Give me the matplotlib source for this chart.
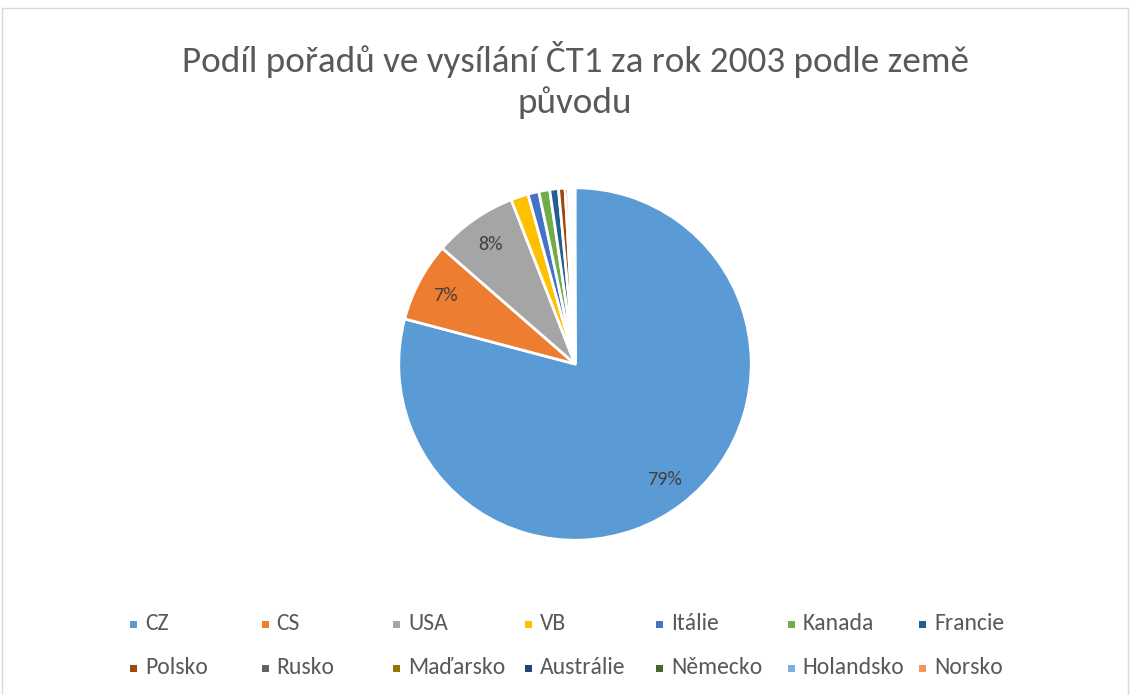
import matplotlib.pyplot as plt
from matplotlib.patches import Rectangle

## data (share of broadcasting, %)
zeme = ['CZ', 'CS', 'USA', 'VB', 'Itálie', 'Kanada', 'Francie',
        'Polsko', 'Rusko', 'Maďarsko', 'Austrálie', 'Německo', 'Holandsko', 'Norsko']
podil = [79.2, 7.3, 7.7, 1.6, 1.0, 1.0, 0.8,
         0.6, 0.3, 0.2, 0.15, 0.1, 0.1, 0.05]
barvy = ['#5B9BD5', '#ED7D31', '#A5A5A5', '#FFC000', '#4472C4', '#70AD47', '#255E91',
         '#9E480E', '#636363', '#997300', '#264478', '#43682B', '#7CAFDD', '#F1975A']

plt.rcParams['font.family'] = ['Carlito', 'Lato', 'DejaVu Sans']

W, H = 1131, 695
fig = plt.figure(figsize=(W / 100, H / 100), dpi=100)

# light border round the chart area
fig.patches.append(Rectangle((2 / W, -0.01), (W - 5) / W, 1 - 1 / H, transform=fig.transFigure,
                             fill=False, edgecolor='#D9D9D9', linewidth=1))

fig.text(575 / W, 1 - 60 / H, 'Podíl pořadů ve vysílání ČT1 za rok 2003 podle země',
         ha='center', va='center', fontsize=26.7, color='#595959')
fig.text(575 / W, 1 - 103 / H, 'původu',
         ha='center', va='center', fontsize=26.7, color='#595959')

## pie
cx, cy, r = 575, 364, 178
ax = fig.add_axes([(cx - r) / W, (H - cy - r) / H, 2 * r / W, 2 * r / H])
ax.set_aspect('equal')

def fmt(p):
    return f'{p:.0f}%' if p >= 5 else ''

wedges, texts, autotexts = ax.pie(podil, colors=barvy, startangle=90, counterclock=False,
                                  autopct=fmt, pctdistance=0.83,
                                  wedgeprops=dict(edgecolor='white', linewidth=2),
                                  textprops=dict(color='#404040', fontsize=14.5))
ax.set_xlim(-1.01, 1.01)
ax.set_ylim(-1.01, 1.01)

## legend, excel style equal columns
for i, (name, c) in enumerate(zip(zeme, barvy)):
    col, row = i % 7, i // 7
    x = (130 + col * 131.5) / W
    y = 1 - (624 + row * 44) / H
    fig.patches.append(Rectangle((x, y - 3.5 / H), 7 / W, 7 / H, transform=fig.transFigure,
                                 facecolor=c, edgecolor='none'))
    fig.text(x + 15 / W, y, name, ha='left', va='center', fontsize=17, color='#595959')

plt.savefig('out.png', dpi=100)
